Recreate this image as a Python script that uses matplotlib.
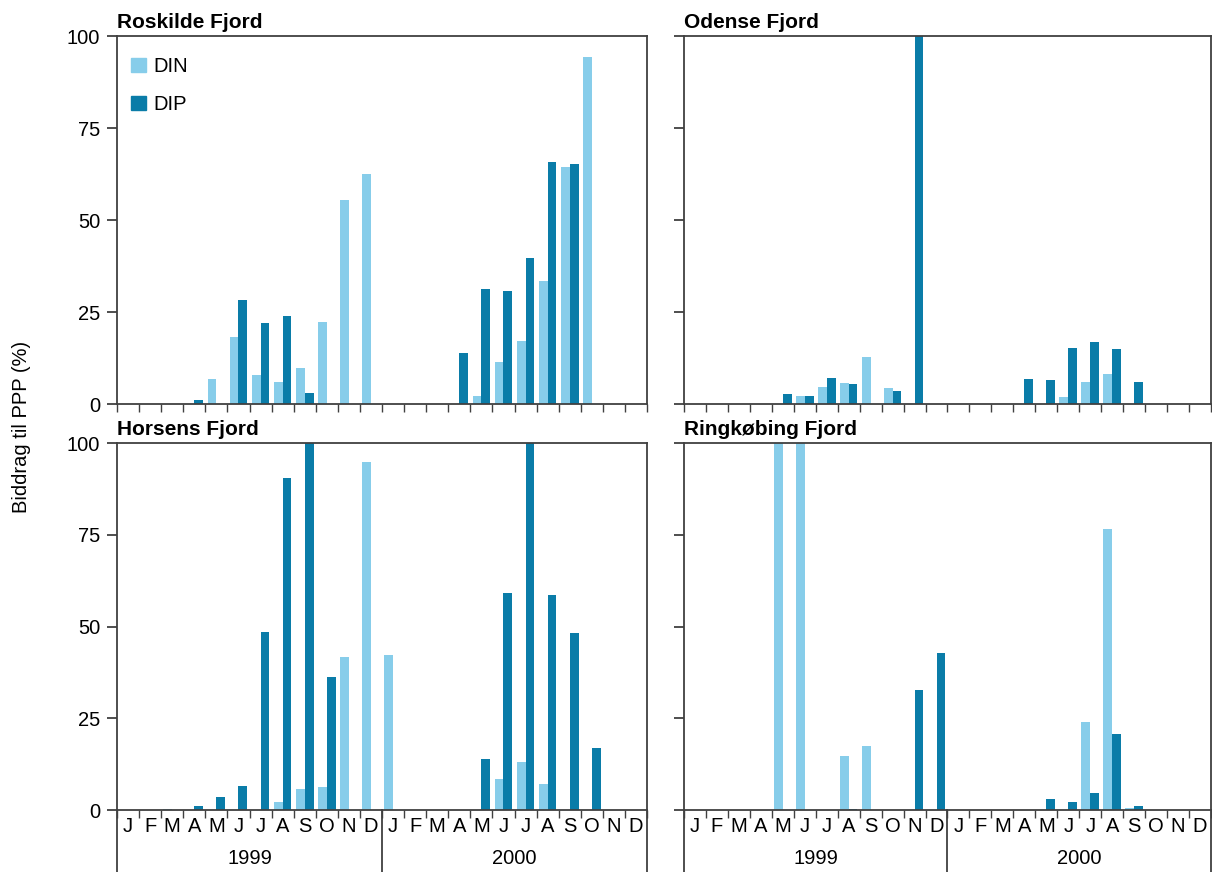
import numpy as np
import matplotlib
matplotlib.use("Agg")
import matplotlib.pyplot as plt
import matplotlib.transforms as mtransforms
from matplotlib.patches import Patch

plt.rcParams["font.family"] = ["Liberation Sans", "DejaVu Sans"]
plt.rcParams["font.size"] = 14.5

months = ["J", "F", "M", "A", "M", "J", "J", "A", "S", "O", "N", "D"]
years = ["1999", "2000"]

# monthly contribution to PPP (%), Jan 1999 .. Dec 2000
roskilde_din = [0, 0, 0, 0, 6.8, 18.1, 7.9, 6.0, 9.9, 22.4, 55.5, 62.5,
                0, 0, 0, 0, 2.3, 11.4, 17.2, 33.3, 64.5, 94.4, 0, 0]
roskilde_dip = [0, 0, 0, 1.1, 0, 28.2, 21.9, 23.8, 3.1, 0, 0, 0,
                0, 0, 0, 13.8, 31.3, 30.7, 39.8, 65.7, 65.1, 0, 0, 0]

odense_din = [0, 0, 0, 0, 0, 2.3, 4.6, 5.7, 12.7, 4.3, 0, 0,
              0, 0, 0, 0, 0, 2.0, 6.0, 8.2, 0, 0, 0, 0]
odense_dip = [0, 0, 0, 0, 2.8, 2.3, 7.0, 5.4, 0, 3.5, 100, 0,
              0, 0, 0, 6.8, 6.5, 15.1, 16.8, 14.9, 6.1, 0, 0, 0]

horsens_din = [0, 0, 0.3, 0, 0, 0, 0, 2.1, 5.7, 6.3, 41.7, 94.8,
               42.2, 0, 0, 0, 0, 8.4, 13.1, 7.1, 0, 0, 0, 0]
horsens_dip = [0, 0, 0, 1.2, 3.5, 6.6, 48.5, 90.5, 100, 36.2, 0, 0,
               0, 0, 0, 0, 13.9, 59.1, 100, 58.6, 48.2, 16.9, 0, 0]

ringk_din = [0, 0, 0, 0, 100, 100, 0, 14.8, 17.4, 0, 0, 0,
             0, 0, 0, 0, 0, 0, 24.0, 76.6, 0.6, 0, 0, 0]
ringk_dip = [0, 0, 0, 0, 0, 0, 0, 0.4, 0, 0, 32.7, 42.7,
             0, 0, 0, 0, 3.0, 2.3, 4.6, 20.7, 1.0, 0, 0, 0]

DIN_COLOR = "#87cdea"
DIP_COLOR = "#0a7ca8"
LINE_COLOR = "#404040"

W, H = 1212, 872
fig = plt.figure(figsize=(W / 100, H / 100), dpi=100)


def px_axes(x0, y_top, x1, y_bot):
    return fig.add_axes([x0 / W, 1 - y_bot / H, (x1 - x0) / W, (y_bot - y_top) / H])


panels = [
    ("Roskilde Fjord", roskilde_din, roskilde_dip, (117, 36, 647, 404), True, False),
    ("Odense Fjord", odense_din, odense_dip, (684, 36, 1211, 404), False, False),
    ("Horsens Fjord", horsens_din, horsens_dip, (117, 443, 647, 810), True, True),
    ("Ringkøbing Fjord", ringk_din, ringk_dip, (684, 443, 1211, 810), False, True),
]

x = np.arange(24) + 0.5

for i, (title, din, dip, box, left_labels, bottom) in enumerate(panels):
    ax = px_axes(*box)
    ax.bar(x - 0.2, din, width=0.4, color=DIN_COLOR, label="DIN")
    ax.bar(x + 0.2, dip, width=0.4, color=DIP_COLOR, label="DIP")
    ax.set_xlim(0, 24)
    ax.set_ylim(0, 100)

    for sp in ax.spines.values():
        sp.set_color(LINE_COLOR)
        sp.set_linewidth(1.3)

    ax.set_yticks([0, 25, 50, 75, 100])
    ax.tick_params(axis="y", direction="out", length=7, width=1.3,
                   color=LINE_COLOR, pad=5, labelleft=left_labels)

    ax.set_xticks(np.arange(25))
    ax.set_xticks(x, minor=True)
    ax.tick_params(axis="x", which="major", direction="out", length=6,
                   width=1.0, color=LINE_COLOR, labelbottom=False)
    if bottom:
        ax.set_xticklabels(months * 2, minor=True)
        ax.tick_params(axis="x", which="minor", length=0, pad=5)
        # year boxes under the month labels
        trans = mtransforms.blended_transform_factory(ax.transData, ax.transAxes)
        for xb in (0, 12, 24):
            ax.plot([xb, xb], [0, -0.2], transform=trans, color=LINE_COLOR,
                    lw=1.3, clip_on=False)
        for k, yr in enumerate(years):
            ax.text(6 + 12 * k, -0.131, yr, transform=trans,
                    ha="center", va="center")
    else:
        ax.tick_params(axis="x", which="minor", length=0, labelbottom=False)

    ax.text(0, 1.011, title, transform=ax.transAxes, ha="left", va="bottom",
            fontweight="bold", fontsize=15)

    if i == 0:
        handles = [Patch(color=DIN_COLOR, label="DIN"),
                   Patch(color=DIP_COLOR, label="DIP")]
        ax.legend(handles=handles, loc="upper left", bbox_to_anchor=(0.011, 0.965),
                  frameon=False, borderaxespad=0, handlelength=0.75,
                  handleheight=0.75, handletextpad=0.35, labelspacing=0.95)

fig.text(0.018, 0.51, "Biddrag til PPP (%)", rotation=90,
         ha="center", va="center")

fig.savefig("out.png", dpi=100)
